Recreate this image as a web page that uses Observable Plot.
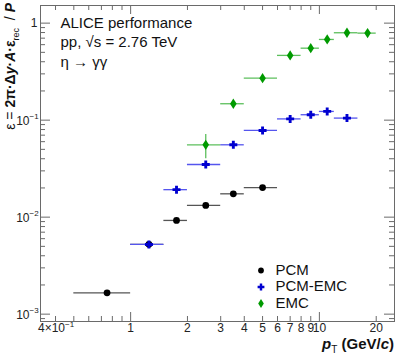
<!DOCTYPE html>
<html><head><meta charset="utf-8">
<script src="https://cdn.jsdelivr.net/npm/d3@7"></script>
<script src="https://cdn.jsdelivr.net/npm/@observablehq/plot@0.6"></script>
<style>body{margin:0;background:#fff}</style>
</head><body><div id="chart"></div>
<script>
// ---- data ----
const pcmX   = [0.75, 1.25, 1.75, 2.5, 3.5, 5];
const pcmXlo = [0.5, 1.0, 1.5, 2, 3, 4];
const pcmXhi = [1.0, 1.5, 2, 3, 4, 6];
const pcmY   = [0.00166, 0.00525, 0.00925, 0.0132, 0.0174, 0.0202];

const pcmEmcX   = [1.25, 1.75, 2.5, 3.5, 5, 7, 9, 11, 14];
const pcmEmcXlo = [1.0, 1.5, 2, 3, 4, 6, 8, 10, 12];
const pcmEmcXhi = [1.5, 2, 3, 4, 6, 8, 10, 12, 16];
const pcmEmcY   = [0.00523, 0.0192, 0.0349, 0.0557, 0.0783, 0.103, 0.1137, 0.123, 0.105];

const emcX   = [2.5, 3.5, 5, 7, 9, 11, 14, 18];
const emcXlo = [2, 3, 4, 6, 8, 10, 12, 16];
const emcXhi = [3, 4, 6, 8, 10, 12, 16, 20];
const emcY   = [0.0557, 0.1476, 0.271, 0.465, 0.552, 0.679, 0.796, 0.789];
const emcYlo = [0.040, 0.140, 0.262, 0.452, 0.538, 0.662, 0.776, 0.765];
const emcYhi = [0.071, 0.155, 0.280, 0.478, 0.566, 0.696, 0.816, 0.813];

const seriesNames  = ["PCM", "PCM-EMC", "EMC"];
const seriesColors = ["#000000", "#0000d0", "#009a00"];
const barColors    = ["#555555", "#5555ee", "#5cbf5c"];

const xMajorTicks = [1, 10];
const xMinorTicks = [0.4, 0.5, 0.6, 0.7, 0.8, 0.9, 2, 3, 4, 5, 6, 7, 8, 9, 20];
const xTickLabelVals = [1, 2, 3, 4, 5, 6, 7, 8, 9, 10, 20];
const xTickLabels = ["1", "2", "3", "4", "5", "6", "7", "8", "9", "10", "20"];
const yMajorTicks = [0.001, 0.01, 0.1, 1];
const yMinorTicks = [0.0009, 0.002, 0.003, 0.004, 0.005, 0.006, 0.007, 0.008, 0.009,
                     0.02, 0.03, 0.04, 0.05, 0.06, 0.07, 0.08, 0.09,
                     0.2, 0.3, 0.4, 0.5, 0.6, 0.7, 0.8, 0.9];
const yPowVals = [0.1, 0.01, 0.001];
const yPowExp = ["−1", "−2", "−3"];
const infoLines = ["ALICE performance", "pp, √s = 2.76 TeV", "η → γγ"];

// ---- layout ----
const W = 399, H = 357, mL = 40, mR = 5, mT = 5, mB = 36;
const iW = W - mL - mR, iH = H - mT - mB;
const font = "'Liberation Sans', Arial, Helvetica, sans-serif";
const axisCol = "#6a6a6a";

const cross = {draw(ctx, size) {
  const r = Math.sqrt(size / Math.PI), a = r, t = r * 0.36;
  ctx.moveTo(-a, -t); ctx.lineTo(-t, -t); ctx.lineTo(-t, -a); ctx.lineTo(t, -a);
  ctx.lineTo(t, -t); ctx.lineTo(a, -t); ctx.lineTo(a, t); ctx.lineTo(t, t);
  ctx.lineTo(t, a); ctx.lineTo(-t, a); ctx.lineTo(-t, t); ctx.lineTo(-a, t); ctx.closePath();
}};
const diamond = {draw(ctx, size) {
  const r = Math.sqrt(size / Math.PI), w = r * 0.72, h = r * 1.12;
  ctx.moveTo(0, -h); ctx.lineTo(w, 0); ctx.lineTo(0, h); ctx.lineTo(-w, 0); ctx.closePath();
}};
const symbols = ["circle", cross, diamond];
const radii = [3.4, 4.0, 4.6];

const rows = (xs, lo, hi, ys) => xs.map((x, i) => ({x, lo: lo[i], hi: hi[i], y: ys[i]}));
const series = [
  rows(pcmX, pcmXlo, pcmXhi, pcmY),
  rows(pcmEmcX, pcmEmcXlo, pcmEmcXhi, pcmEmcY),
  rows(emcX, emcXlo, emcXhi, emcY)
];
const emcVert = emcX.map((x, i) => ({x, y1: emcYlo[i], y2: emcYhi[i]}));

const marks = [];
// ticks (inward)
marks.push(Plot.tickX(xMajorTicks, {x: d => d, insetTop: iH - 9, stroke: axisCol}));
marks.push(Plot.tickX(xMinorTicks, {x: d => d, insetTop: iH - 5, stroke: axisCol}));
marks.push(Plot.tickX(xMajorTicks, {x: d => d, insetBottom: iH - 9, stroke: axisCol}));
marks.push(Plot.tickX(xMinorTicks, {x: d => d, insetBottom: iH - 5, stroke: axisCol}));
marks.push(Plot.tickY(yMajorTicks, {y: d => d, insetRight: iW - 10, stroke: axisCol}));
marks.push(Plot.tickY(yMinorTicks, {y: d => d, insetRight: iW - 5, stroke: axisCol}));
marks.push(Plot.tickY(yMajorTicks, {y: d => d, insetLeft: iW - 10, stroke: axisCol}));
marks.push(Plot.tickY(yMinorTicks, {y: d => d, insetLeft: iW - 5, stroke: axisCol}));
marks.push(Plot.frame({stroke: axisCol}));

// tick labels
marks.push(Plot.text(xTickLabelVals, {x: d => d, text: (d, i) => xTickLabels[i], frameAnchor: "bottom", dy: 10, fontSize: 12, fill: "#222"}));
marks.push(Plot.text([0.4], {x: d => d, text: () => "4×10", frameAnchor: "bottom", dy: 10, dx: 9.5, textAnchor: "end", fontSize: 12, fill: "#222"}));
marks.push(Plot.text([0.4], {x: d => d, text: () => "−1", frameAnchor: "bottom", dy: 5, dx: 9.5, textAnchor: "start", fontSize: 8, fill: "#222"}));
marks.push(Plot.text([1], {y: d => d, text: () => "1", frameAnchor: "left", dx: -3, textAnchor: "end", fontSize: 12, fill: "#222"}));
marks.push(Plot.text(yPowVals, {y: d => d, text: () => "10", frameAnchor: "left", dx: -11, dy: 1, textAnchor: "end", fontSize: 12, fill: "#222"}));
marks.push(Plot.text(yPowVals, {y: d => d, text: (d, i) => yPowExp[i], frameAnchor: "left", dx: -11, dy: -4, textAnchor: "start", fontSize: 8, fill: "#222"}));

// error bars + markers
series.forEach((s, k) => {
  marks.push(Plot.ruleY(s, {y: "y", x1: "lo", x2: "hi", stroke: barColors[k], strokeWidth: 1.3}));
});
marks.push(Plot.ruleX(emcVert, {x: "x", y1: "y1", y2: "y2", stroke: barColors[2], strokeWidth: 1.3}));
series.forEach((s, k) => {
  marks.push(Plot.dot(s, {x: "x", y: "y", r: radii[k], symbol: symbols[k], fill: seriesColors[k], stroke: "none"}));
});

// info text
infoLines.forEach((t, i) => {
  marks.push(Plot.text([t], {text: d => d, frameAnchor: "top-left", dx: 20, dy: 22 + i * 19.5, lineAnchor: "bottom", textAnchor: "start", fontSize: 15, fill: "#111"}));
});

// legend
const legDy = [265, 281.5, 298];
seriesNames.forEach((n, k) => {
  marks.push(Plot.dot([n], {frameAnchor: "top-left", dx: 220.5, dy: legDy[k], r: radii[k] * 0.85, symbol: symbols[k], fill: seriesColors[k], stroke: "none"}));
  marks.push(Plot.text([n], {text: d => d, frameAnchor: "top-left", dx: 235, dy: legDy[k] + 4, lineAnchor: "bottom", textAnchor: "start", fontSize: 15, fill: "#111"}));
});

const plot = Plot.plot({
  width: W, height: H,
  marginLeft: mL, marginRight: mR, marginTop: mT, marginBottom: mB,
  x: {type: "log", domain: [0.333, 25], axis: null},
  y: {type: "log", domain: [8.4e-4, 1.52], axis: null},
  style: {fontFamily: font, background: "#fff", overflow: "visible"},
  marks
});

// axis titles (rich text)
const svg = d3.select(plot);
const yt = svg.append("text")
  .attr("transform", "translate(15,3) rotate(-90)")
  .attr("text-anchor", "end")
  .style("font-family", font).style("font-size", "14px").attr("fill", "#111");
yt.append("tspan").text("ε = ");
yt.append("tspan").attr("font-weight", "bold").text("2π·Δ");
yt.append("tspan").attr("font-weight", "bold").attr("font-style", "italic").text("y");
yt.append("tspan").attr("font-weight", "bold").text("·");
yt.append("tspan").attr("font-weight", "bold").attr("font-style", "italic").text("A");
yt.append("tspan").attr("font-weight", "bold").text("·ε");
yt.append("tspan").attr("font-size", "9px").attr("dy", 4).text("rec");
yt.append("tspan").attr("dy", -4).text("  / ");
yt.append("tspan").attr("font-weight", "bold").attr("font-style", "italic").text("P");

const xt = svg.append("text")
  .attr("x", 394).attr("y", 349)
  .attr("text-anchor", "end")
  .style("font-family", font).style("font-size", "15px").attr("font-weight", "bold").attr("fill", "#111");
xt.append("tspan").attr("font-style", "italic").text("p");
xt.append("tspan").attr("font-size", "10px").attr("font-weight", "normal").attr("dy", 4).text("T");
xt.append("tspan").attr("dy", -4).text(" (GeV/");
xt.append("tspan").attr("font-style", "italic").text("c");
xt.append("tspan").text(")");

document.getElementById("chart").appendChild(plot);
</script>
</body></html>
